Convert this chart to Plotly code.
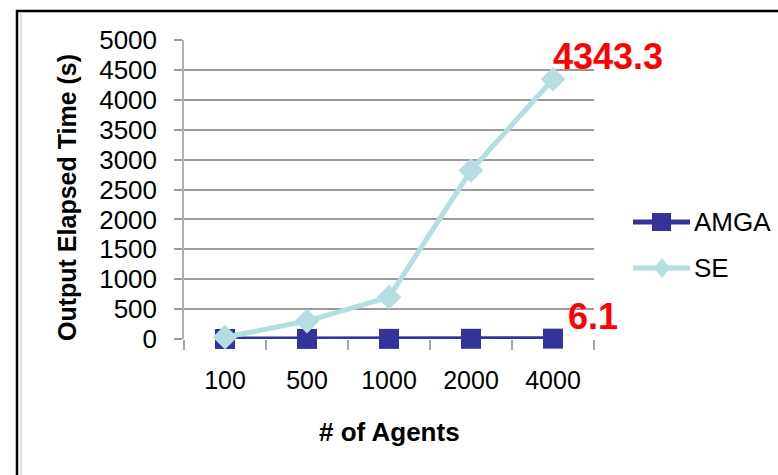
import plotly.graph_objects as go

categories = ["100", "500", "1000", "2000", "4000"]
amga = [0.6, 1.3, 2.2, 3.6, 6.1]
se = [30, 300, 700, 2820, 4343.3]
y_ticks = list(range(0, 5001, 500))
series_names = ["AMGA", "SE"]
series_colors = ["#333399", "#B4DEE2"]

FONT = "Liberation Sans, Arial, sans-serif"
W, H = 778, 475
L, R, T, B = 184, 184, 40, 136
pw, ph = W - L - R, H - T - B

def px_x(p):
    return (p - L) / pw

def px_y(p):
    return (H - B - p) / ph

xpos = list(range(len(categories)))
bounds = [i - 0.5 for i in range(len(categories) + 1)]

fig = go.Figure()
fig.add_trace(go.Scatter(
    x=xpos, y=amga, name=series_names[0], mode="lines+markers",
    line=dict(color=series_colors[0], width=5),
    marker=dict(symbol="square", size=20, color=series_colors[0]),
    cliponaxis=False, showlegend=False,
))
fig.add_trace(go.Scatter(
    x=xpos, y=se, name=series_names[1], mode="lines+markers",
    line=dict(color=series_colors[1], width=5),
    marker=dict(symbol="diamond", size=19, color=series_colors[1]),
    cliponaxis=False, showlegend=False,
))

fig.add_annotation(x=xpos[-1], y=se[-1], xref="x", yref="y",
                   text=f"{se[-1]}", showarrow=False, xanchor="left", yanchor="bottom",
                   xshift=-2, yshift=0,
                   font=dict(family=FONT, size=36, color="#FF0000", weight="bold"))
fig.add_annotation(x=xpos[-1], y=amga[-1], xref="x", yref="y",
                   text=f"{amga[-1]}", showarrow=False, xanchor="left", yanchor="bottom",
                   xshift=13, yshift=0,
                   font=dict(family=FONT, size=36, color="#FF0000", weight="bold"))

fig.add_annotation(x=px_x(67), y=px_y(198), xref="paper", yref="paper",
                   xanchor="center", yanchor="middle",
                   text="Output Elapsed Time (s)", textangle=-90, showarrow=False,
                   font=dict(family=FONT, size=25, color="#000000", weight="bold"))
fig.add_annotation(x=px_x(389), y=px_y(432), xref="paper", yref="paper",
                   xanchor="center", yanchor="middle",
                   text="# of Agents", showarrow=False,
                   font=dict(family=FONT, size=26, color="#000000", weight="bold"))

# custom legend
leg_rows = [222, 268]
for name, color, row, sym in zip(series_names, series_colors, leg_rows, ["square", "diamond"]):
    fig.add_shape(type="line", xref="paper", yref="paper",
                  x0=px_x(633), x1=px_x(690), y0=px_y(row), y1=px_y(row),
                  line=dict(color=color, width=5))
    if sym == "square":
        fig.add_shape(type="rect", xref="paper", yref="paper",
                      x0=px_x(652), x1=px_x(671), y0=px_y(row + 9), y1=px_y(row - 9),
                      line=dict(width=0), fillcolor=color)
    else:
        cx, cy = 662, row
        path = (f"M {px_x(cx)} {px_y(cy - 10)} L {px_x(cx + 8)} {px_y(cy)} "
                f"L {px_x(cx)} {px_y(cy + 10)} L {px_x(cx - 8)} {px_y(cy)} Z")
        fig.add_shape(type="path", xref="paper", yref="paper", path=path,
                      line=dict(width=0), fillcolor=color)
    fig.add_annotation(x=px_x(692), y=px_y(row), xref="paper", yref="paper",
                       xanchor="left", yanchor="middle", text=name, showarrow=False,
                       font=dict(family=FONT, size=26, color="#000000"))

# outer frame
fig.add_shape(type="line", xref="paper", yref="paper",
              x0=px_x(21), x1=px_x(21), y0=px_y(600), y1=px_y(13),
              line=dict(color="#D4D4D4", width=1.5))
fig.add_shape(type="rect", xref="paper", yref="paper",
              x0=px_x(17), x1=px_x(900), y0=px_y(600), y1=px_y(11),
              line=dict(color="#000000", width=2.5), fillcolor="rgba(0,0,0,0)")

fig.update_layout(
    width=W, height=H,
    margin=dict(l=L, r=R, t=T, b=B),
    paper_bgcolor="white", plot_bgcolor="white",
    font=dict(family=FONT, size=24, color="#000000"),
    showlegend=False,
)
fig.update_xaxes(
    range=[bounds[0], bounds[-1]],
    tickvals=xpos, ticktext=categories, ticks="",
    showgrid=False, showline=False, zeroline=False,
    ticklabelstandoff=24,
    tickfont=dict(family=FONT, size=25),
    minor=dict(tickvals=bounds, ticks="outside", ticklen=10,
               tickcolor="#A6A6A6", tickwidth=1.5, showgrid=False),
)
fig.update_yaxes(
    range=[0, 5000], tickvals=y_ticks,
    showgrid=True, gridcolor="#9A9A9A", gridwidth=2,
    showline=True, linecolor="#B0B0B0", linewidth=1.5,
    zeroline=False,
    ticks="outside", ticklen=8, tickcolor="#9A9A9A", tickwidth=2,
    ticklabelstandoff=12,
    tickfont=dict(family=FONT, size=26),
)

fig.write_html("out.html")
